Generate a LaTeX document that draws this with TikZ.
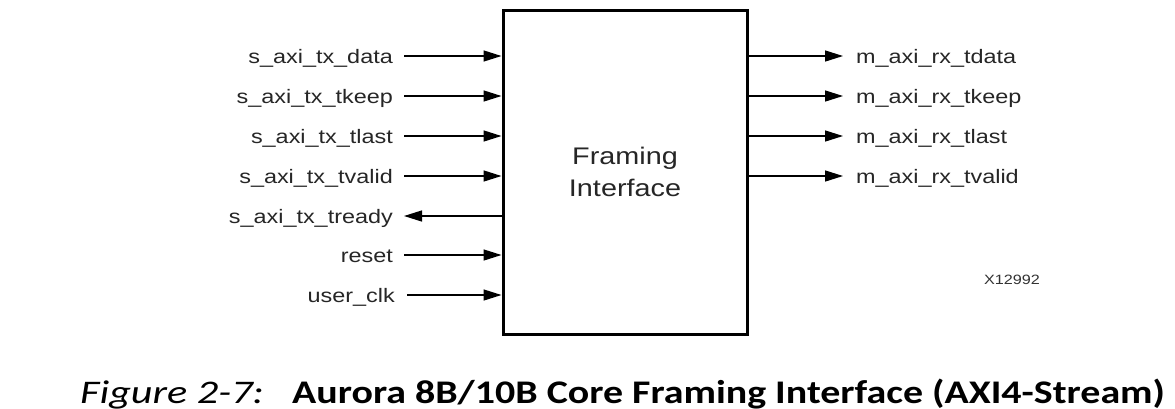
\documentclass[tikz,border=0pt]{standalone}
\usepackage{fontspec}
\usetikzlibrary{arrows.meta}
\newfontfamily\labfont[FakeStretch=1.2]{Liberation Sans}
\newfontfamily\capfont[FakeStretch=1.21]{Carlito}
\newfontfamily\capitfont[FakeStretch=1.28]{Carlito}
\begin{document}
\begin{tikzpicture}[x=1pt,y=-1pt,
  sig/.style={font=\labfont\fontsize{19.5}{22}\selectfont, inner sep=0pt, text=black!85},
  lsig/.style={sig, anchor=base east},
  rsig/.style={sig, anchor=base west},
  wire/.style={line width=1.4pt, -{Triangle[length=18pt,width=11pt]}},
  block/.style={draw, line width=3pt, minimum width=244pt, minimum height=324pt,
    align=center, font=\labfont\fontsize{24}{32}\selectfont, text=black!85, inner sep=0pt}]
\clip (0,0) rectangle (1175,408);
\fill[white] (0,0) rectangle (1175,408);
\node[block] (box) at (625,172) {Framing\\Interface};
% left side
\node[lsig] (i1) at (393,63) {s\_axi\_tx\_data};
\node[lsig] (i2) at (393,103) {s\_axi\_tx\_tkeep};
\node[lsig] (i3) at (393,143) {s\_axi\_tx\_tlast};
\node[lsig] (i4) at (393,183) {s\_axi\_tx\_tvalid};
\node[lsig] (i5) at (393,223) {s\_axi\_tx\_tready};
\node[lsig] (i6) at (393,262) {reset};
\node[lsig] (i7) at (395,302) {user\_clk};
\foreach \n/\y in {i1/56,i2/96,i3/136,i4/176,i6/255}{
  \draw[wire] (404,\y) -- (box.west |- 0,\y);
}
\draw[wire] (407,295) -- (box.west |- 0,295);
\draw[wire] (box.west |- 0,216) -- (404,216);
% right side
\node[rsig] (o1) at (856,63) {m\_axi\_rx\_tdata};
\node[rsig] (o2) at (856,103) {m\_axi\_rx\_tkeep};
\node[rsig] (o3) at (856,143) {m\_axi\_rx\_tlast};
\node[rsig] (o4) at (856,183) {m\_axi\_rx\_tvalid};
\foreach \y in {56,96,136,176}{
  \draw[wire] (box.east |- 0,\y) -- (843,\y);
}
\node[font=\labfont\fontsize{13.5}{16}\selectfont, text=black!80, inner sep=0pt] (xid) at (1012,280) {X12992};
% caption
\node[anchor=base west, inner sep=0pt, font=\capitfont\itshape\fontsize{33}{38}\selectfont] (figno) at (80,403) {Figure 2-7:};
\node[anchor=base west, inner sep=0pt, font=\capfont\bfseries\fontsize{33}{38}\selectfont] (cap) at (292,403) {Aurora 8B/10B Core Framing Interface (AXI4-Stream)};
\end{tikzpicture}
\end{document}
